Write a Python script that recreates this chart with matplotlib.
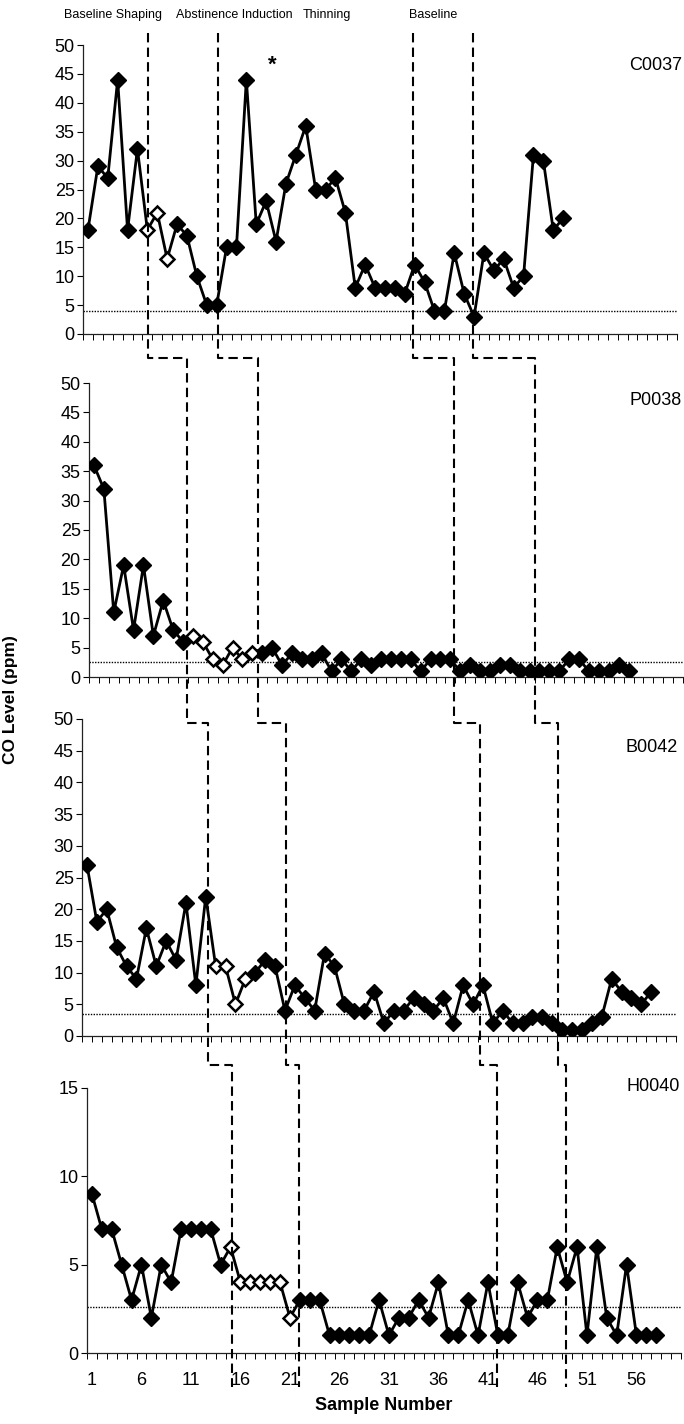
import numpy as np
import matplotlib
matplotlib.use('Agg')
import matplotlib.pyplot as plt
from matplotlib.lines import Line2D
from matplotlib import transforms

plt.rcParams['font.family'] = ['Liberation Sans', 'DejaVu Sans']

# ---------------- data ----------------
subjects = ['C0037', 'P0038', 'B0042', 'H0040']

c0037 = [18, 29, 27, 44, 18, 32, 18, 21, 13, 19, 17, 10, 5, 5, 15, 15, 44, 19, 23, 16,
         26, 31, 36, 25, 25, 27, 21, 8, 12, 8, 8, 8, 7, 12, 9, 4, 4, 14, 7, 3,
         14, 11, 13, 8, 10, 31, 30, 18, 20]
c0037_open = [7, 8, 9]

p0038 = [36, 32, 11, 19, 8, 19, 7, 13, 8, 6, 7, 6, 3, 2, 5, 3, 4, 4, 5, 2,
         4, 3, 3, 4, 1, 3, 1, 3, 2, 3, 3, 3, 3, 1, 3, 3, 3, 1, 2, 1,
         1, 2, 2, 1, 1, 1, 1, 1, 3, 3, 1, 1, 1, 2, 1]
p0038_open = [11, 12, 13, 14, 15, 16, 17]

b0042 = [27, 18, 20, 14, 11, 9, 17, 11, 15, 12, 21, 8, 22, 11, 11, 5, 9, 10, 12, 11,
         4, 8, 6, 4, 13, 11, 5, 4, 4, 7, 2, 4, 4, 6, 5, 4, 6, 2, 8, 5,
         8, 2, 4, 2, 2, 3, 3, 2, 1, 1, 1, 2, 3, 9, 7, 6, 5, 7]
b0042_open = [14, 15, 16, 17]

h0040 = [9, 7, 7, 5, 3, 5, 2, 5, 4, 7, 7, 7, 7, 5, 6, 4, 4, 4, 4, 4,
         2, 3, 3, 3, 1, 1, 1, 1, 1, 3, 1, 2, 2, 3, 2, 4, 1, 1, 3, 1,
         4, 1, 1, 4, 2, 3, 3, 6, 4, 6, 1, 6, 2, 1, 5, 1, 1, 1]
h0040_open = [15, 16, 17, 18, 19, 20, 21]

series = [c0037, p0038, b0042, h0040]
open_points = [c0037_open, p0038_open, b0042_open, h0040_open]
criteria = [4.0, 2.6, 3.5, 2.6]
y_max = [50, 50, 50, 15]

phase_names = ['Baseline Shaping', 'Abstinence Induction', 'Thinning', 'Baseline']
# sample position of each of the 4 phase-change lines, per panel
phase_changes = [
    [7.1, 10.4, 13.2, 15.1],
    [14.1, 17.6, 21.1, 21.9],
    [33.8, 37.4, 40.7, 41.9],
    [39.9, 45.5, 48.6, 48.9],
]
x_tick_labels = [str(v) for v in range(1, 57, 5)]

# ---------------- layout (pixels) ----------------
W, H = 684, 1424
boxes = [  # left, right, top, bottom
    (83, 677, 45, 334),
    (89, 683, 383, 677),
    (82, 676, 719, 1036),
    (87, 681, 1088, 1353),
]
label_pos = [(1.008, 0.93), (0.998, 0.942), (1.003, 0.91), (0.998, 1.004)]

fig = plt.figure(figsize=(W / 100, H / 100), dpi=100)
axes = []
for i, (l, r, t, b) in enumerate(boxes):
    ax = fig.add_axes([l / W, 1 - b / H, (r - l) / W, (b - t) / H])
    axes.append(ax)
    vals = np.array(series[i], dtype=float)
    xs = np.arange(1, len(vals) + 1)
    is_open = np.isin(xs, open_points[i])
    ax.axhline(criteria[i], color='black', lw=1.0, ls=(0, (1, 1.0)), zorder=1)
    ax.plot(xs, vals, '-', color='black', lw=2.0, zorder=3)
    ax.plot(xs[~is_open], vals[~is_open], 'D', ms=8.5, mfc='black', mec='black',
            mew=1.0, ls='none', zorder=4)
    ax.plot(xs[is_open], vals[is_open], 'D', ms=7.5, mfc='white', mec='black',
            mew=1.8, ls='none', zorder=4)
    ax.set_xlim(0.5, 60.5)
    ax.set_ylim(0, y_max[i])
    ax.set_yticks(np.arange(0, y_max[i] + 1, 5))
    ax.set_xticks(np.arange(0.5, 61, 1))
    ax.set_xticklabels([])
    for s in ['top', 'right']:
        ax.spines[s].set_visible(False)
    for s in ['left', 'bottom']:
        ax.spines[s].set_linewidth(0.9)
        ax.spines[s].set_color('#222222')
    ax.tick_params(axis='y', direction='out', length=4, width=0.8, labelsize=13, pad=2)
    ax.tick_params(axis='x', which='major', direction='out', length=4, width=0.7)
    ax.patch.set_alpha(0)
    ax.text(label_pos[i][0], label_pos[i][1], subjects[i], transform=ax.transAxes,
            ha='right', va='center', fontsize=13)

axb = axes[-1]
axb.set_xticks(np.arange(1, 57, 5), minor=True)
axb.set_xticklabels(x_tick_labels, minor=True)
axb.tick_params(axis='x', which='minor', length=0, pad=14, labelsize=13)

# asterisk
axes[0].text(19.6, 46.5, '*', ha='center', va='center', fontsize=16, fontweight='bold')

# ---------------- phase-change lines ----------------
inv = fig.transFigure.inverted()


def fig_pt(ax, x, ya):
    tr = transforms.blended_transform_factory(ax.transData, ax.transAxes)
    return inv.transform(tr.transform((x, ya)))


top_y = 1.04
jog = [1.085, 0.987, 1.087]
bottom_y = -0.128
for xs4 in phase_changes:
    p = [fig_pt(axes[k], xs4[k], 0)[0] for k in range(4)]
    ytop = fig_pt(axes[0], 0, top_y)[1]
    j12 = fig_pt(axes[1], 0, jog[0])[1]
    j23 = fig_pt(axes[2], 0, jog[1])[1]
    j34 = fig_pt(axes[3], 0, jog[2])[1]
    ybot = fig_pt(axes[3], 0, bottom_y)[1]
    px = [p[0], p[0], p[1], p[1], p[2], p[2], p[3], p[3]]
    py = [ytop, j12, j12, j23, j23, j34, j34, ybot]
    fig.add_artist(Line2D(px, py, transform=fig.transFigure, color='black', lw=1.5,
                          ls=(0, (4.5, 2.5)), zorder=5))

# phase names
phase_x = [113, 234, 327, 433]
for name, xp in zip(phase_names, phase_x):
    fig.text(xp / W, 1 - 15 / H, name, ha='center', va='center', fontsize=9)

fig.text(11 / W, 1 - 700 / H, 'CO Level (ppm)', rotation=90, ha='center', va='center',
         fontsize=12.5, fontweight='bold')
fig.text(384 / W, 1 - 1406 / H, 'Sample Number', ha='center', va='center',
         fontsize=13, fontweight='bold')

fig.savefig('out.png', dpi=100, facecolor='white')
